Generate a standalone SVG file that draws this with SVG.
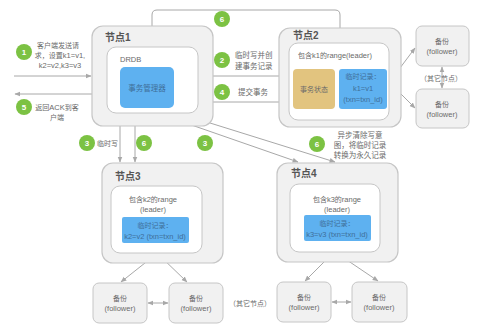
<svg xmlns="http://www.w3.org/2000/svg" width="500" height="330" viewBox="0 0 500 330">
<defs>
<marker id="ah" viewBox="0 0 10 10" refX="9" refY="5" markerWidth="6" markerHeight="6" orient="auto-start-reverse">
<path d="M0,1 L10,5 L0,9 z" fill="#a8a8a8"/>
</marker>
<style>
.outer{fill:#f1f1f1;stroke:#c6c6c6;stroke-width:1.2}
.inner{fill:#ffffff;stroke:#c6c6c6;stroke-width:1}
.blue{fill:#5eb1f0;stroke:none}
.tan{fill:#e2c47f;stroke:none}
.fol{fill:#f1f1f1;stroke:#c6c6c6;stroke-width:1}
.arr{fill:none;stroke:#a8a8a8;stroke-width:1;marker-end:url(#ah)}
.darr{fill:none;stroke:#a8a8a8;stroke-width:1;marker-end:url(#ah);marker-start:url(#ah)}
text{font-family:"Liberation Sans","Noto Sans CJK SC",sans-serif;font-size:7.5px;fill:#6a6a6a}
.z{font-size:7px}
.t{font-size:10px;font-weight:bold;fill:#555}
.c{text-anchor:middle}
.g{fill:#7cc243}
.gn{fill:#ffffff;font-size:8px;font-weight:bold;text-anchor:middle}
.bt{fill:#3f6f99}
</style>
</defs>

<g id="connectors">
<path class="arr" d="M152,47 V15 Q152,10 157,10 H335 Q340,10 340,15 V42"/>
<path class="arr" d="M14,76 H91"/>
<path class="arr" d="M92,94 H15"/>
<path class="arr" d="M198,76 H288"/>
<path class="arr" d="M198,102 H288"/>
<path class="arr" d="M120,113 V162"/>
<path class="arr" d="M135,113 V162"/>
<path class="arr" d="M157,113 L298,162"/>
<path class="arr" d="M178,113 L335,162"/>
<path class="darr" d="M391,80 L415,48"/>
<path class="darr" d="M391,84 L415,108"/>
<path class="darr" d="M442,67 V88"/>
<path class="darr" d="M155,255 L121,282"/>
<path class="darr" d="M159,255 L187,282"/>
<path class="darr" d="M148,303 H168"/>
<path class="darr" d="M332,254 L305,281"/>
<path class="darr" d="M338,254 L378,281"/>
<path class="darr" d="M332,302 H351"/>
</g>

<g id="labels">
<circle class="g" cx="24" cy="52" r="8"/><text class="gn" x="24" y="55">1</text>
<text x="58" y="48" class="c z">客户端发送请</text>
<text x="60" y="58" class="c"><tspan class="z">求，设置</tspan>k1=v1,</text>
<text x="60" y="68" class="c">k2=v2,k3=v3</text>
<circle class="g" cx="24" cy="107" r="8"/><text class="gn" x="24" y="110">5</text>
<text x="57" y="110" class="c"><tspan class="z">返回</tspan>ACK<tspan class="z">到客</tspan></text>
<text x="57" y="120" class="c z">户端</text>
<circle class="g" cx="222" cy="19" r="8"/><text class="gn" x="222" y="22">6</text>
<circle class="g" cx="222" cy="60" r="8"/><text class="gn" x="222" y="63">2</text>
<text x="235" y="58">临时写并创</text>
<text x="235" y="69">建事务记录</text>
<circle class="g" cx="222" cy="92" r="8"/><text class="gn" x="222" y="95">4</text>
<text x="238" y="95">提交事务</text>
<circle class="g" cx="87" cy="143" r="8"/><text class="gn" x="87" y="146">3</text>
<text x="97" y="146" class="z">临时写</text>
<circle class="g" cx="144" cy="143" r="8"/><text class="gn" x="144" y="146">6</text>
<circle class="g" cx="205" cy="143" r="8"/><text class="gn" x="205" y="146">3</text>
<circle class="g" cx="317" cy="144" r="8"/><text class="gn" x="317" y="147">6</text>
<text x="360" y="138" class="c">异步清除写意</text>
<text x="360" y="148" class="c">图，将临时记录</text>
<text x="360" y="158" class="c">转换为永久记录</text>
<text x="441" y="81" class="c z">（其它节点）</text>
<text x="250" y="306" class="c z">（其它节点）</text>
</g>

<g id="node1">
<rect class="outer" x="92" y="26" width="121" height="100" rx="11"/>
<text class="t" x="105" y="41">节点1</text>
<rect class="inner" x="107" y="47" width="91" height="66" rx="9"/>
<text x="120" y="62">DRDB</text>
<rect class="blue" x="120" y="67" width="54" height="41" rx="5"/>
<text class="c bt" x="147" y="91">事务管理器</text>
</g>

<g id="node2">
<rect class="outer" x="279" y="28" width="122" height="99" rx="11"/>
<text class="t" x="293" y="39">节点2</text>
<rect class="inner" x="289" y="43" width="100" height="77" rx="9"/>
<text x="335" y="58" class="c"><tspan class="z">包含</tspan>k1<tspan class="z">的</tspan>range(leader)</text>
<rect class="tan" x="293" y="69" width="42" height="40" rx="4"/>
<text x="314" y="92" class="c z">事务状态</text>
<rect class="blue" x="339" y="69" width="48" height="40" rx="3"/>
<text x="363" y="79" class="c bt z">临时记录：</text>
<text x="363" y="91" class="c bt">k1=v1</text>
<text x="363" y="102" class="c bt">(txn=txn_id)</text>
</g>

<g id="follower2a">
<rect class="fol" x="416" y="26" width="53" height="40" rx="6"/>
<text x="442" y="44" class="c z">备份</text>
<text x="442" y="54" class="c">(follower)</text>
</g>
<g id="follower2b">
<rect class="fol" x="416" y="89" width="53" height="39" rx="6"/>
<text x="442" y="107" class="c z">备份</text>
<text x="442" y="117" class="c">(follower)</text>
</g>

<g id="node3">
<rect class="outer" x="102" y="163" width="121" height="100" rx="11"/>
<text class="t" x="115" y="180">节点3</text>
<rect class="inner" x="111" y="186" width="91" height="67" rx="9"/>
<text x="153" y="202" class="c"><tspan class="z">包含</tspan>k2<tspan class="z">的</tspan>range</text>
<text x="153" y="212" class="c">(leader)</text>
<rect class="blue" x="122" y="217" width="67" height="26" rx="2"/>
<text x="155" y="228" class="c bt z">临时记录：</text>
<text x="155" y="239" class="c bt">k2=v2 (txn=txn_id)</text>
</g>
<g id="follower3a">
<rect class="fol" x="93" y="283" width="54" height="40" rx="6"/>
<text x="120" y="301" class="c z">备份</text>
<text x="120" y="311" class="c">(follower)</text>
</g>
<g id="follower3b">
<rect class="fol" x="169" y="283" width="54" height="40" rx="6"/>
<text x="196" y="301" class="c z">备份</text>
<text x="196" y="311" class="c">(follower)</text>
</g>

<g id="node4">
<rect class="outer" x="277" y="163" width="121" height="99" rx="11"/>
<text class="t" x="291" y="177">节点4</text>
<rect class="inner" x="290" y="184" width="90" height="68" rx="9"/>
<text x="337" y="202" class="c"><tspan class="z">包含</tspan>k3<tspan class="z">的</tspan>range</text>
<text x="337" y="212" class="c">(leader)</text>
<rect class="blue" x="304" y="215" width="67" height="26" rx="2"/>
<text x="337" y="226" class="c bt z">临时记录：</text>
<text x="337" y="237" class="c bt">k3=v3 (txn=txn_id)</text>
</g>
<g id="follower4a">
<rect class="fol" x="277" y="282" width="54" height="40" rx="6"/>
<text x="304" y="300" class="c z">备份</text>
<text x="304" y="310" class="c">(follower)</text>
</g>
<g id="follower4b">
<rect class="fol" x="352" y="282" width="55" height="40" rx="6"/>
<text x="379" y="300" class="c z">备份</text>
<text x="379" y="310" class="c">(follower)</text>
</g>
</svg>
